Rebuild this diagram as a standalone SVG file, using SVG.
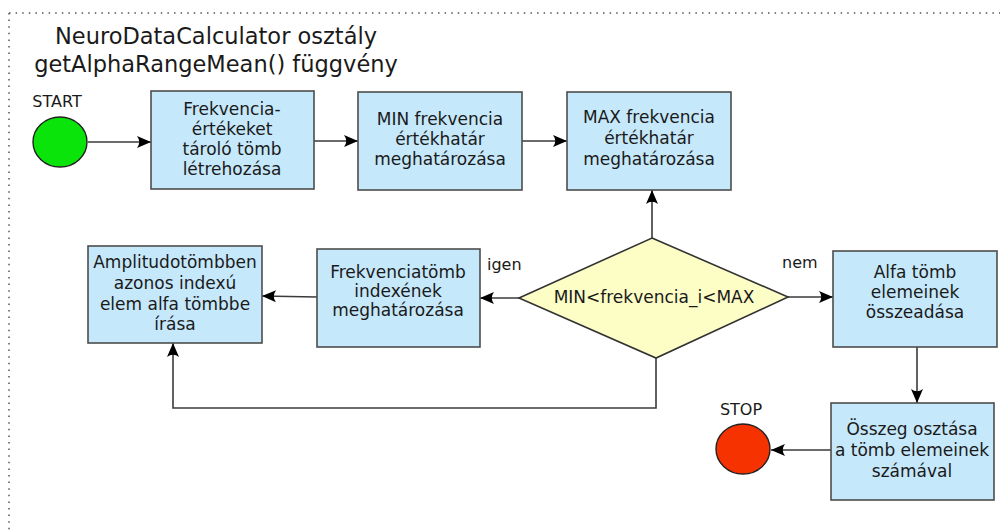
<svg xmlns="http://www.w3.org/2000/svg" width="1004" height="530" viewBox="0 0 1004 530">
<style>
  text { font-family: "DejaVu Sans", "Liberation Sans", sans-serif; fill: #1a1a1a; }
  .t { font-size: 17px; text-anchor: middle; }
  .lbl { font-size: 16px; }
  .title { font-size: 22.5px; text-anchor: middle; }
  .box { fill: #c6e8fb; stroke: #4d4d4d; stroke-width: 1.6; }
  .dia { fill: #fdfdc6; stroke: #333; stroke-width: 1.6; }
  .conn { fill: none; stroke: #3a3a3a; stroke-width: 1.6; marker-end: url(#arr); }
</style>
<defs>
  <marker id="arr" viewBox="-15 -8 16 16" refX="0" refY="0" markerWidth="16" markerHeight="16" markerUnits="userSpaceOnUse" orient="auto">
    <path d="M0,0 L-14,-6 Q-9.5,0 -14,6 Z" fill="#000"/>
  </marker>
</defs>
<rect width="1004" height="530" fill="#fff"/>
<path d="M9,13 H1000 M9,13 V530" fill="none" stroke="#555" stroke-width="1.5" stroke-dasharray="1.5,5.1"/>

<g id="title">
  <text class="title" x="216" y="44">NeuroDataCalculator osztály</text>
  <text class="title" x="216" y="72">getAlphaRangeMean() függvény</text>
</g>

<g id="connectors">
  <path class="conn" d="M88,142 H151"/>
  <path class="conn" d="M314,141 H358"/>
  <path class="conn" d="M522,141 H567"/>
  <path class="conn" d="M652,238 V190"/>
  <path class="conn" d="M519,298 H480"/>
  <path class="conn" d="M317,297 L262,296"/>
  <path class="conn" d="M656,358 V408 H173 V343"/>
  <path class="conn" d="M788,297 H833"/>
  <path class="conn" d="M917,347 V403"/>
  <path class="conn" d="M831,450 H771"/>
  <text class="lbl" x="487" y="270">igen</text>
  <text class="lbl" x="782" y="268">nem</text>
</g>

<g id="start">
  <ellipse cx="60" cy="142" rx="27" ry="25" fill="#0be40b" stroke="#222" stroke-width="1.4"/>
  <text class="lbl" x="57" y="107" text-anchor="middle">START</text>
</g>

<g id="n1">
  <rect class="box" x="151" y="91" width="163" height="98"/>
  <text class="t" x="232" y="115">Frekvencia-</text>
  <text class="t" x="232" y="135">értékeket</text>
  <text class="t" x="232" y="155">tároló tömb</text>
  <text class="t" x="232" y="175">létrehozása</text>
</g>

<g id="n2">
  <rect class="box" x="358" y="92" width="164" height="98"/>
  <text class="t" x="440" y="125">MIN frekvencia</text>
  <text class="t" x="440" y="145">értékhatár</text>
  <text class="t" x="440" y="165">meghatározása</text>
</g>

<g id="n3">
  <rect class="box" x="567" y="92" width="164" height="98"/>
  <text class="t" x="649" y="123">MAX frekvencia</text>
  <text class="t" x="649" y="144">értékhatár</text>
  <text class="t" x="649" y="165">meghatározása</text>
</g>

<g id="decision">
  <path class="dia" d="M652,238 L788,297 L656,358 L519,298 Z"/>
  <text class="t" x="654" y="303">MIN&lt;frekvencia_i&lt;MAX</text>
</g>

<g id="n4">
  <rect class="box" x="317" y="249" width="163" height="98"/>
  <text class="t" x="398" y="278">Frekvenciatömb</text>
  <text class="t" x="398" y="297">indexének</text>
  <text class="t" x="398" y="316">meghatározása</text>
</g>

<g id="n5">
  <rect class="box" x="88" y="246" width="174" height="97"/>
  <text class="t" x="175" y="268">Amplitudotömbben</text>
  <text class="t" x="175" y="289">azonos indexú</text>
  <text class="t" x="175" y="310">elem alfa tömbbe</text>
  <text class="t" x="175" y="330">írása</text>
</g>

<g id="n6">
  <rect class="box" x="833" y="251" width="164" height="96"/>
  <text class="t" x="915" y="278">Alfa tömb</text>
  <text class="t" x="915" y="298">elemeinek</text>
  <text class="t" x="915" y="318">összeadása</text>
</g>

<g id="n7">
  <rect class="box" x="831" y="403" width="163" height="97"/>
  <text class="t" x="912" y="435">Összeg osztása</text>
  <text class="t" x="912" y="456">a tömb elemeinek</text>
  <text class="t" x="912" y="477">számával</text>
</g>

<g id="stop">
  <ellipse cx="743" cy="449" rx="27" ry="25" fill="#f53200" stroke="#222" stroke-width="1.4"/>
  <text class="lbl" x="741" y="415" text-anchor="middle">STOP</text>
</g>
</svg>
